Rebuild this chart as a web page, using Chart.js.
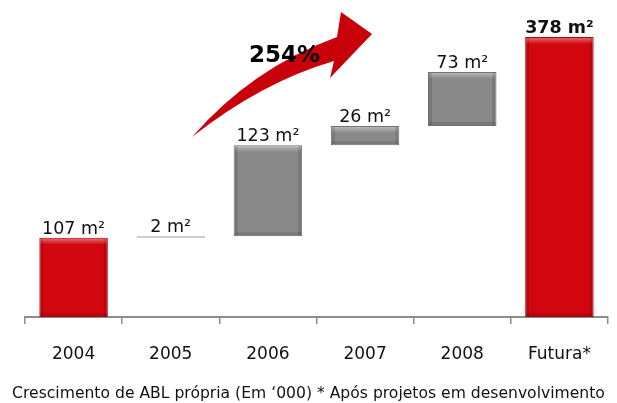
<!DOCTYPE html>
<html>
<head>
<meta charset="utf-8">
<script src="https://cdn.jsdelivr.net/npm/chart.js@4/dist/chart.umd.min.js"></script>
<style>
  html, body { margin: 0; padding: 0; background: #fff; }
  #wrap { width: 617px; height: 403px; }
</style>
</head>
<body>
<div id="wrap"><canvas id="abl"></canvas></div>
<script>
// ==========================
// Data
// ==========================
const categories = ["2004", "2005", "2006", "2007", "2008", "Futura*"];
const gains = [107, 2, 123, 26, 73, 378];       // mil m²
const kinds = ["total", "step", "step", "step", "step", "total"];
const caption = "Crescimento de ABL própria (Em ‘000) * Após projetos em desenvolvimento";
const growthLabel = "254%";

const RED = "#d2070f";
const GRAY = "#898989";
const FONT = "'DejaVu Sans', Verdana, sans-serif";

// floating bars for the waterfall
let running = 0;
const floating = gains.map((v, i) => {
  if (kinds[i] === "total") {
    running = v;
    return [0, v];
  }
  const seg = [running, running + v];
  running += v;
  return seg;
});
const thin = gains.map(v => v < 5);
const colors = kinds.map((k, i) => k === "total" ? RED : (thin[i] ? "#a8a8a8" : GRAY));
const borders = kinds.map((k, i) => k === "total" ? "#a8040b" : (thin[i] ? "#a8a8a8" : "#6f6f6f"));

// ==========================
// Plugins
// ==========================
const bevel = {
  id: "bevel",
  afterDatasetsDraw(chart) {
    const ctx = chart.ctx;
    chart.getDatasetMeta(0).data.forEach(bar => {
      const left = bar.x - bar.width / 2;
      const top = Math.min(bar.y, bar.base);
      const h = Math.abs(bar.base - bar.y);
      if (h < 8) return;
      ctx.save();
      let g = ctx.createLinearGradient(0, top, 0, top + 7);
      g.addColorStop(0, "rgba(255,255,255,0.45)");
      g.addColorStop(1, "rgba(255,255,255,0)");
      ctx.fillStyle = g;
      ctx.fillRect(left + 1, top + 1, bar.width - 2, 7);
      ctx.fillStyle = "rgba(0,0,0,0.12)";
      ctx.fillRect(left + 1, top + 1, 3, h - 2);
      ctx.fillRect(left + bar.width - 4, top + 1, 3, h - 2);
      ctx.fillRect(left + 1, top + h - 4, bar.width - 2, 3);
      ctx.restore();
    });
  }
};

const valueLabels = {
  id: "valueLabels",
  afterDatasetsDraw(chart) {
    const ctx = chart.ctx;
    ctx.save();
    ctx.textAlign = "center";
    ctx.textBaseline = "alphabetic";
    ctx.fillStyle = "#111";
    chart.getDatasetMeta(0).data.forEach((bar, i) => {
      const top = Math.min(bar.y, bar.base);
      const last = i === gains.length - 1;
      ctx.font = (last ? "bold " : "") + "17.5px " + FONT;
      ctx.fillText(gains[i] + " m²", bar.x, top - 4);
    });
    ctx.restore();
  }
};

// curved growth arrow between 2005 and 2007, plus the caption line
const growthArrow = {
  id: "growthArrow",
  afterDraw(chart) {
    const ctx = chart.ctx;
    ctx.save();
    ctx.fillStyle = "#c8000a";
    ctx.beginPath();
    ctx.moveTo(192, 137);
    ctx.quadraticCurveTo(252, 68, 337, 37);
    ctx.lineTo(341, 12);
    ctx.lineTo(372, 34);
    ctx.lineTo(330, 78);
    ctx.lineTo(334, 61);
    ctx.quadraticCurveTo(262, 82, 192, 137);
    ctx.closePath();
    ctx.fill();
    ctx.font = "bold 23px " + FONT;
    ctx.fillStyle = "#000";
    ctx.textAlign = "left";
    ctx.fillText(growthLabel, 249, 62);

    ctx.font = "15.6px " + FONT;
    ctx.fillStyle = "#111";
    ctx.textAlign = "center";
    ctx.fillText(caption, chart.width / 2, 398);
    ctx.restore();
  }
};

// ==========================
// Chart
// ==========================
new Chart(document.getElementById("abl"), {
  type: "bar",
  data: {
    labels: categories,
    datasets: [{
      data: floating,
      backgroundColor: colors,
      borderColor: borders,
      borderWidth: 1,
      borderSkipped: false,
      categoryPercentage: 1,
      barPercentage: 0.705
    }]
  },
  options: {
    responsive: true,
    maintainAspectRatio: false,
    animation: false,
    layout: { padding: { left: 25, right: 9, top: 6, bottom: 18.6 } },
    plugins: {
      legend: { display: false },
      tooltip: { enabled: false }
    },
    scales: {
      x: {
        offset: true,
        border: { display: true, color: "#8c8c8c", width: 2 },
        grid: { offset: true, drawOnChartArea: false, drawTicks: true, tickLength: 7, color: "#8c8c8c", lineWidth: 1.5 },
        ticks: { color: "#111", padding: 20, font: { family: FONT, size: 17 } }
      },
      y: {
        display: false,
        min: 0,
        max: 420
      }
    }
  },
  plugins: [bevel, valueLabels, growthArrow]
});
</script>
</body>
</html>
